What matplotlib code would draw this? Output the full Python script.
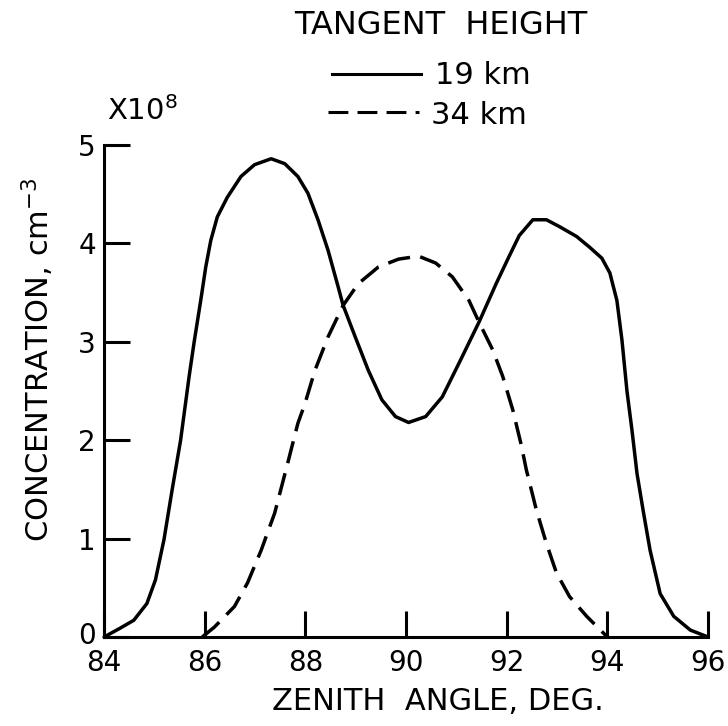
import matplotlib
matplotlib.use("Agg")
import matplotlib.pyplot as plt
from matplotlib.lines import Line2D
from matplotlib.transforms import ScaledTranslation

# datos (angulo cenital, concentracion x 1e8)
angulo_19km = [84.0, 84.32, 84.59, 84.85, 85.02, 85.19, 85.35, 85.52, 85.69, 85.79,
               85.92, 86.02, 86.12, 86.25, 86.45, 86.72, 86.99, 87.32, 87.59, 87.85,
               88.05, 88.25, 88.45, 88.65, 88.75, 88.99, 89.25, 89.52, 89.79, 90.05,
               90.39, 90.72, 91.05, 91.45, 91.79, 92.05, 92.25, 92.52, 92.79, 93.05,
               93.39, 93.65, 93.89, 94.05, 94.19, 94.29, 94.39, 94.49, 94.59, 94.72,
               94.85, 95.05, 95.32, 95.65, 96.0]
conc_19km = [0.0, 0.09, 0.17, 0.34, 0.58, 0.99, 1.49, 2.0, 2.65, 3.0,
             3.42, 3.76, 4.03, 4.27, 4.47, 4.68, 4.8, 4.86, 4.81, 4.68,
             4.51, 4.24, 3.93, 3.56, 3.37, 3.05, 2.71, 2.41, 2.24, 2.18,
             2.24, 2.44, 2.78, 3.2, 3.59, 3.87, 4.08, 4.24, 4.24, 4.17,
             4.07, 3.96, 3.85, 3.7, 3.42, 3.02, 2.5, 2.1, 1.66, 1.26,
             0.88, 0.44, 0.21, 0.07, 0.0]

angulo_34km = [85.95, 86.19, 86.59, 86.85, 87.12, 87.39, 87.65, 87.85, 87.99, 88.19,
               88.45, 88.75, 89.05, 89.45, 89.85, 90.25, 90.59, 90.92, 91.25, 91.45,
               91.72, 91.92, 92.12, 92.29, 92.39, 92.59, 92.79, 92.99, 93.25, 93.59,
               94.0]
conc_34km = [0.0, 0.1, 0.31, 0.55, 0.88, 1.26, 1.77, 2.17, 2.37, 2.71,
             3.05, 3.37, 3.59, 3.76, 3.84, 3.87, 3.8, 3.66, 3.42, 3.2,
             2.92, 2.65, 2.31, 1.95, 1.7, 1.29, 0.95, 0.65, 0.41, 0.21,
             0.0]

ticks_x = [84, 86, 88, 90, 92, 94, 96]
ticks_y = [0, 1, 2, 3, 4, 5]

W, H = 728, 726


def px(x, y):
    # pixeles de la imagen -> coordenadas de figura
    return x / W, 1 - y / H


def graficar():
    fig = plt.figure(figsize=(7.28, 7.26), dpi=100)
    ax = fig.add_axes([0.143, 0.1226, 0.8295, 0.6777])

    ax.plot(angulo_19km, conc_19km, color='black', lw=2.5, clip_on=False,
            solid_joinstyle='round', solid_capstyle='round')
    linea, = ax.plot(angulo_34km, conc_34km, color='black', lw=2.5, clip_on=False,
                     dash_joinstyle='round')
    linea.set_dashes((6.5, 3))

    ax.set_xlim(84, 96)
    ax.set_ylim(0, 5)
    ax.set_xticks(ticks_x)
    ax.set_yticks(ticks_y)
    for s in ['top', 'right']:
        ax.spines[s].set_visible(False)
    for s in ['left', 'bottom']:
        ax.spines[s].set_linewidth(2.2)
    ax.tick_params(direction='in', length=19, width=2.2, labelsize=20)
    ax.tick_params(axis='x', pad=9)
    ax.tick_params(axis='y', pad=6)

    # el "0" del eje y un poco mas arriba para no chocar con el 84
    fig.canvas.draw()
    cero = ax.get_yticklabels()[0]
    cero.set_transform(cero.get_transform() +
                       ScaledTranslation(0, 4 / 100, fig.dpi_scale_trans))

    fig.text(*px(38, 360), 'CONCENTRATION, cm$^{-3}$', rotation=90,
             ha='center', va='center', fontsize=22)
    fig.text(*px(438, 702), 'ZENITH  ANGLE, DEG.', ha='center', va='center',
             fontsize=22)
    fig.text(*px(107, 111), 'X10$^{8}$', ha='left', va='center', fontsize=21)

    # leyenda dibujada a mano
    fig.text(*px(441, 25), 'TANGENT  HEIGHT', ha='center', va='center', fontsize=23)
    x0, y0 = px(332, 74)
    x1, _ = px(421, 74)
    fig.add_artist(Line2D([x0, x1], [y0, y0], color='black', lw=2.2))
    x0, y0 = px(328, 112)
    x1, _ = px(419, 112)
    leg = Line2D([x0, x1], [y0, y0], color='black', lw=2.2)
    leg.set_dashes((6.5, 3))
    fig.add_artist(leg)
    fig.text(*px(435, 75), '19 km', ha='left', va='center', fontsize=22)
    fig.text(*px(431, 115), '34 km', ha='left', va='center', fontsize=22)

    fig.savefig("out.png", dpi=100)


def main():
    graficar()


if __name__ == "__main__":
    main()
